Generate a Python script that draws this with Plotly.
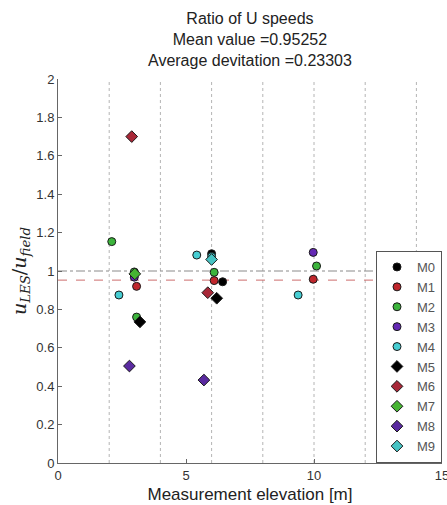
import plotly.graph_objects as go

# ---- data ----
series_names = ["M0", "M1", "M2", "M3", "M4", "M5", "M6", "M7", "M8", "M9"]
series_symbols = ["circle"] * 5 + ["diamond"] * 5
series_colors = ["#000000", "#c0262c", "#3cb43c", "#6428b4", "#46cdd2",
                 "#000000", "#a82838", "#46b432", "#5a2aa0", "#46c3c3"]
series_x = [
    [6.0, 6.43, 13.42],
    [3.07, 6.1, 9.97],
    [2.1, 2.98, 3.07, 6.1, 10.1],
    [2.98, 9.97],
    [2.38, 5.42, 9.38, 6.0],
    [3.2, 6.2],
    [2.88, 5.85],
    [3.0],
    [2.79, 5.7],
    [6.0],
]
series_y = [
    [1.09, 0.944, 0.97],
    [0.92, 0.95, 0.957],
    [1.153, 0.995, 0.76, 0.993, 1.026],
    [0.968, 1.097],
    [0.875, 1.083, 0.875, 1.075],
    [0.735, 0.858],
    [1.70, 0.887],
    [0.985],
    [0.505, 0.432],
    [1.06],
]
mean_value = 0.95252
avg_deviation = 0.23303
ref_x_lines = [2, 4, 6, 8, 10, 12, 14]
x_ticks = [0, 5, 10, 15]
y_ticks = [0, 0.2, 0.4, 0.6, 0.8, 1, 1.2, 1.4, 1.6, 1.8, 2]
y_tick_labels = ["0", "0.2", "0.4", "0.6", "0.8", "1", "1.2", "1.4", "1.6", "1.8", "2"]

fig = go.Figure()

# reference lines
for xv in ref_x_lines:
    fig.add_shape(type="line", xref="x", yref="paper", x0=xv, x1=xv, y0=0, y1=1,
                  line=dict(color="#b4b4b4", width=1, dash="dot"), layer="below")
fig.add_shape(type="line", xref="paper", yref="y", x0=0, x1=1, y0=1, y1=1,
              line=dict(color="#8a8a8a", width=1, dash="dashdot"), layer="below")
fig.add_shape(type="line", xref="paper", yref="y", x0=0, x1=1, y0=mean_value, y1=mean_value,
              line=dict(color="#cc6c6c", width=1, dash="dash"), layer="below")

for name, sym, col, xs, ys in zip(series_names, series_symbols, series_colors, series_x, series_y):
    fig.add_trace(go.Scatter(
        x=xs, y=ys, mode="markers", name=name,
        marker=dict(symbol=sym, size=8 if sym == "circle" else 9, color=col,
                    line=dict(color="#1a1a1a", width=1)),
    ))

title_text = ("Ratio of U speeds<br>Mean value =%.5f<br>Average devitation =%.5f"
              % (mean_value, avg_deviation))
fig.add_annotation(text=title_text, xref="paper", yref="paper", x=0.5, y=1,
                   xanchor="center", yanchor="bottom", yshift=8, showarrow=False,
                   align="center", font=dict(size=16, color="#222222"))

fig.update_layout(
    width=447, height=505,
    margin=dict(l=58, r=5, t=79, b=42, autoexpand=False),
    paper_bgcolor="white", plot_bgcolor="white",
    font=dict(family="Liberation Sans, Arial, sans-serif", size=13, color="#333333"),
    showlegend=True,
    legend=dict(x=1, y=0, xanchor="right", yanchor="bottom",
                bgcolor="white", bordercolor="#555555", borderwidth=1,
                font=dict(size=13, color="#555555"), tracegroupgap=0,
                itemwidth=30),
    xaxis=dict(range=[0, 15], tickvals=x_ticks, showgrid=False, zeroline=False,
               showline=True, linecolor="#666666", linewidth=1,
               ticks="inside", ticklen=4, tickcolor="#666666",
               ticklabeloverflow="allow", automargin=False,
               title=dict(text="Measurement elevation [m]", standoff=6,
                          font=dict(size=17, color="#222222"))),
    yaxis=dict(range=[0, 2], tickvals=y_ticks, ticktext=y_tick_labels,
               showgrid=False, zeroline=False, automargin=False,
               showline=True, linecolor="#666666", linewidth=1,
               ticks="inside", ticklen=4, tickcolor="#666666",
               title=dict(text="<i>u</i><sub><i>LES</i></sub>/<i>u</i><sub><i>field</i></sub>",
                          standoff=4,
                          font=dict(family="DejaVu Serif, serif", size=19, color="#222222"))),
)

fig.write_html("out.html")
